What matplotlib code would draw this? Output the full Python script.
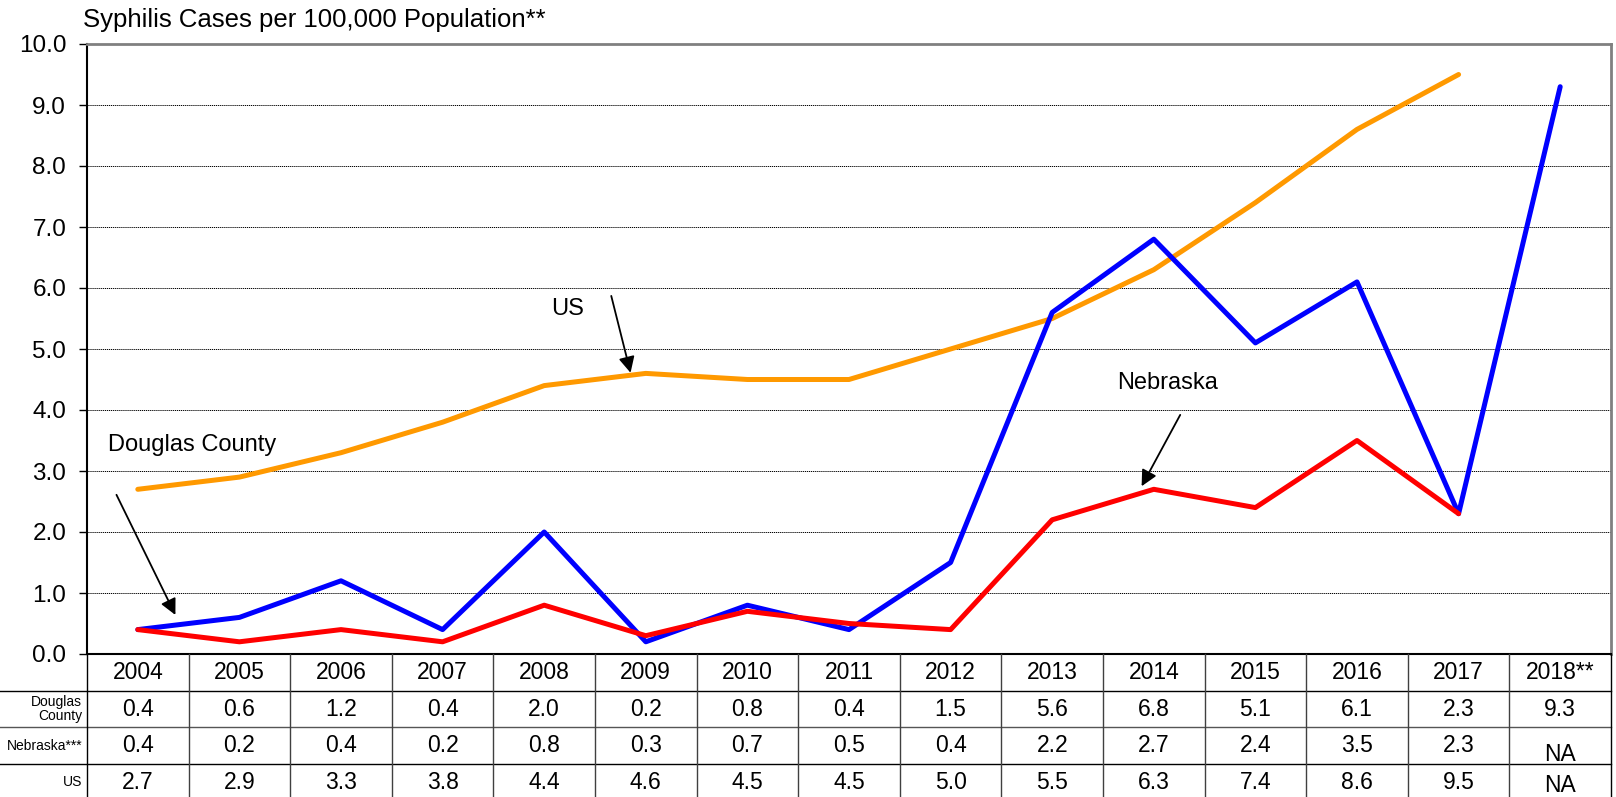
import matplotlib
matplotlib.use("Agg")
import matplotlib.pyplot as plt
from matplotlib.transforms import blended_transform_factory

plt.rcParams['font.family'] = ['Liberation Sans', 'DejaVu Sans']

years = ["2004", "2005", "2006", "2007", "2008", "2009", "2010", "2011",
         "2012", "2013", "2014", "2015", "2016", "2017", "2018**"]
douglas = [0.4, 0.6, 1.2, 0.4, 2.0, 0.2, 0.8, 0.4, 1.5, 5.6, 6.8, 5.1, 6.1, 2.3, 9.3]
nebraska = [0.4, 0.2, 0.4, 0.2, 0.8, 0.3, 0.7, 0.5, 0.4, 2.2, 2.7, 2.4, 3.5, 2.3]
us = [2.7, 2.9, 3.3, 3.8, 4.4, 4.6, 4.5, 4.5, 5.0, 5.5, 6.3, 7.4, 8.6, 9.5]
row_labels = ["Douglas\nCounty", "Nebraska***", "US"]
y_ticks = [0, 1, 2, 3, 4, 5, 6, 7, 8, 9, 10]

W, H = 1616, 797
fig = plt.figure(figsize=(W / 100, H / 100), dpi=100)
left, right, bottom, top = 87, 1611, 654, 44
ax = fig.add_axes([left / W, (H - bottom) / H, (right - left) / W, (bottom - top) / H])

n = len(years)
ax.set_xlim(-0.5, n - 0.5)
ax.set_ylim(0, 10)

LW = 3.6
ax.plot(range(len(us)), us, color="#FF9900", lw=LW, solid_capstyle="round", zorder=3)
ax.plot(range(len(nebraska)), nebraska, color="#FF0000", lw=LW, solid_capstyle="round", zorder=4)
ax.plot(range(len(douglas)), douglas, color="#0000FF", lw=LW, solid_capstyle="round", zorder=3)

ax.set_yticks(y_ticks)
ax.set_yticklabels([f"{v:.1f}" for v in y_ticks], fontsize=17.5)
ax.set_xticks([])
for v in y_ticks[1:-1]:
    ax.axhline(v, color="black", lw=0.7, ls=(0, (1.2, 0.8)), zorder=1)
ax.tick_params(axis="y", direction="out", length=6, width=1, pad=9)

for s in ["left", "bottom"]:
    ax.spines[s].set_color("black")
    ax.spines[s].set_linewidth(1.5)
for s in ["top", "right"]:
    ax.spines[s].set_color("#808080")
    ax.spines[s].set_linewidth(2)

fig.text(83 / W, 1 - 20 / H, "Syphilis Cases per 100,000 Population**",
         fontsize=18.5, ha="left", va="center")

# annotations
arrow = dict(arrowstyle="-|>", color="black", lw=1.3, mutation_scale=24, shrinkA=0, shrinkB=0)
ax.text(4.23, 5.66, "US", fontsize=17, ha="center", va="center")
ax.annotate("", xy=(4.85, 4.61), xytext=(4.66, 5.87), arrowprops=arrow)
ax.text(10.14, 4.44, "Nebraska", fontsize=17, ha="center", va="center")
ax.annotate("", xy=(9.88, 2.75), xytext=(10.26, 3.92), arrowprops=arrow)
ax.text(-0.29, 3.43, "Douglas County", fontsize=17, ha="left", va="center")
ax.annotate("", xy=(0.37, 0.64), xytext=(-0.21, 2.61), arrowprops=arrow)

# data table below the axes
trans = blended_transform_factory(ax.transData, fig.transFigure)
ftrans = fig.transFigure
row_h = 36.7
row_edges = [bottom + i * row_h for i in range(5)]
def fy(py):
    return 1 - py / H

for i, py in enumerate(row_edges[1:], start=1):
    fig.add_artist(plt.Line2D([0, right / W], [fy(py), fy(py)], transform=ftrans,
                              color="black" if i != 2 else "#555555", lw=1.0))
for k in range(n + 1):
    x = k - 0.5
    col = "black" if k in (0, n) else "#404040"
    fig.add_artist(plt.Line2D([x, x], [fy(bottom), 0], transform=trans, color=col, lw=1.0))

rows = [douglas, nebraska, us]
na_offset = [0, 9, 3]
TFS = 16.5
for k, yr in enumerate(years):
    yc = fy(bottom + 0.5 * row_h)
    fig.text(k, yc, yr, transform=trans, ha="center", va="center", fontsize=TFS)
for r, vals in enumerate(rows):
    yc = fy(bottom + (r + 1.5) * row_h)
    for k in range(n):
        if k < len(vals):
            fig.text(k, yc, f"{vals[k]:.1f}", transform=trans, ha="center", va="center", fontsize=TFS)
        else:
            fig.text(k, yc - na_offset[r] / H, "NA", transform=trans, ha="center", va="center", fontsize=TFS)

for r, lab in enumerate(row_labels):
    yc = fy(bottom + (r + 1.5) * row_h)
    fig.text(82 / W, yc, lab, ha="right", va="center", fontsize=10, linespacing=0.95)

fig.savefig("out.png", dpi=100)
